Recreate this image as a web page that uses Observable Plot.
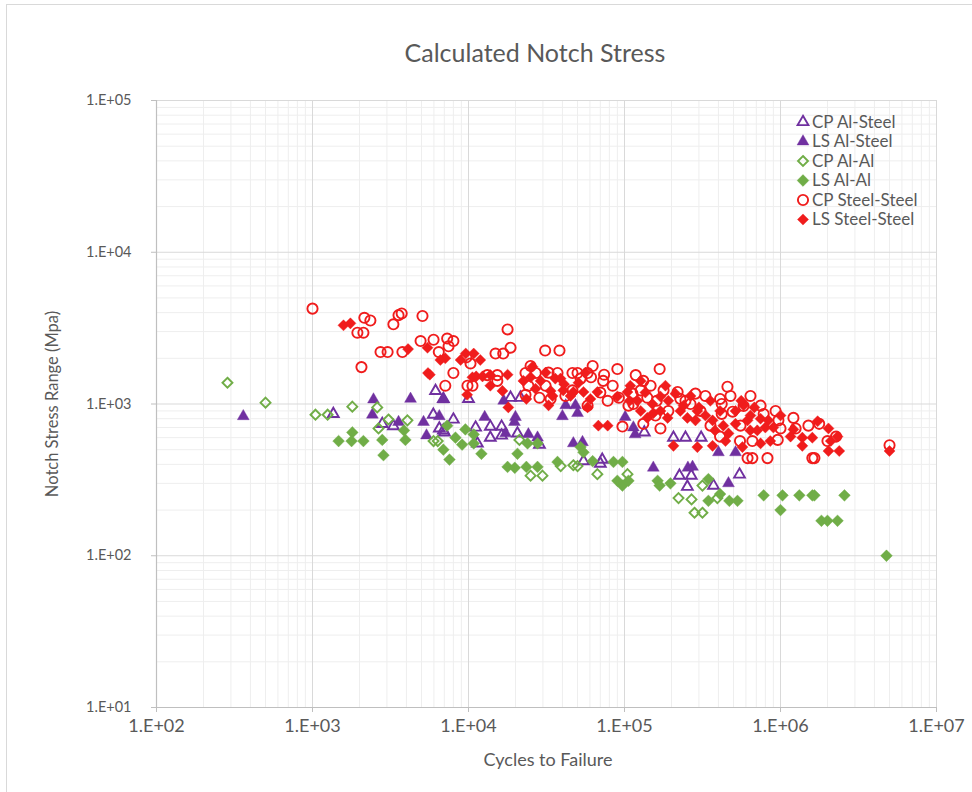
<!DOCTYPE html>
<html>
<head>
<meta charset="utf-8">
<script src="https://cdn.jsdelivr.net/npm/d3@7"></script>
<script src="https://cdn.jsdelivr.net/npm/@observablehq/plot@0.6"></script>
<style>
  body { margin: 0; background: #fff; font-family: Lato, "Open Sans", sans-serif; }
  #chart { position: relative; width: 972px; height: 792px; overflow: hidden; }
  #chart .frame { position: absolute; left: 6px; top: 4px; width: 980px; height: 800px; border: 1px solid #d9d9d9; box-sizing: border-box; }
  #chart .title { position: absolute; left: 0; width: 1070px; top: 37px; text-align: center; font-size: 25px; color: #595959; }
  #chart .xlabel { position: absolute; left: 0; width: 1096px; top: 748px; text-align: center; font-size: 18px; color: #595959; }
  #chart .ylabel { position: absolute; left: 52px; top: 404px; transform: translate(-50%, -50%) rotate(-90deg); white-space: nowrap; font-size: 16.5px; color: #595959; }
  #chart svg.plot { position: absolute; left: 0; top: 0; }
  #chart svg.legend { position: absolute; left: 0; top: 0; pointer-events: none; }
</style>
</head>
<body>
<div id="chart">
  <div class="frame"></div>
  <div class="title">Calculated Notch Stress</div>
  <div class="ylabel">Notch Stress Range (Mpa)</div>
  <div class="xlabel">Cycles to Failure</div>
</div>
<script>
// Series: [cycles to failure, notch stress range (MPa)]
const cpAlSteel = [
  [1360, 860], [2800, 740], [3300, 715], [6150, 1220], [5950, 850], [6500, 690],
  [7000, 650], [8000, 790], [6900, 1080], [10000, 1080], [18600, 1100], [21500, 1100],
  [6900, 670], [11100, 700], [13800, 710], [16300, 710], [13800, 600], [16300, 620],
  [11400, 550], [20600, 640], [28500, 540], [54600, 420], [72000, 430], [70000, 405],
  [134000, 650], [206000, 600], [246000, 600], [225000, 337], [253000, 285], [268000, 337],
  [310000, 600], [372000, 290], [546000, 343]
];
const lsAlSteel = [
  [360, 830], [2460, 1070], [2420, 850], [4250, 1080], [6900, 1070], [3560, 760],
  [5150, 760], [6500, 830], [5380, 620], [12700, 820], [16800, 1050], [20000, 820],
  [19700, 760], [17300, 640], [24200, 630], [27700, 600], [47000, 550], [53800, 560],
  [40000, 830], [50000, 870], [42000, 980], [48500, 980], [101000, 820], [114000, 700],
  [117000, 630], [153000, 380], [273000, 385], [255000, 380], [400000, 480], [515000, 480],
  [464000, 300]
];
const cpAlAl = [
  [285, 1380], [500, 1020], [1045, 850], [1250, 850], [1800, 960], [2600, 950],
  [3070, 790], [4060, 780], [2650, 690], [5970, 570], [6350, 570], [21200, 580],
  [25000, 337], [29800, 337], [39000, 390], [47000, 395], [50000, 390], [67000, 345],
  [104500, 345], [222000, 240], [269000, 235], [316000, 290], [281000, 192], [316000, 192],
  [394000, 240]
];
const lsAlAl = [
  [1470, 570], [1800, 650], [1780, 570], [2120, 570], [2800, 580], [2850, 460],
  [3940, 580], [3860, 670], [7300, 720], [8250, 600], [6900, 500], [7550, 430],
  [9550, 680], [10800, 630], [9100, 540], [10800, 550], [12100, 470], [20600, 470],
  [17800, 385], [19800, 380], [23500, 385], [27700, 385], [23900, 550], [27700, 550],
  [37200, 415], [52300, 520], [54600, 480], [62500, 420], [85000, 415], [97000, 415],
  [90000, 312], [97000, 290], [106000, 312], [163000, 312], [168000, 290], [197000, 300],
  [345000, 320], [410000, 255], [345000, 230], [470000, 230], [530000, 230], [780000, 250],
  [1030000, 250], [1000000, 200], [1320000, 250], [1600000, 250], [1650000, 250], [2570000, 250],
  [1830000, 170], [2000000, 170], [2320000, 170], [4780000, 100]
];
const cpSteel = [
  [1000, 4250], [2150, 3700], [2350, 3550], [1940, 2950], [2120, 2950], [3300, 3350],
  [3560, 3850], [3730, 3950], [5070, 3800], [2730, 2200], [3030, 2200], [3770, 2200],
  [2060, 1750], [4930, 2600], [5970, 2650], [6450, 2200], [7300, 2700], [7450, 2400],
  [8000, 2600], [8000, 1600], [7100, 1320], [17800, 3100], [18600, 2350], [14900, 2150],
  [16700, 2150], [31000, 2250], [38300, 2250], [9850, 1320], [10600, 1320], [9700, 2030],
  [10300, 1850], [23200, 1600], [25000, 1780], [27000, 1600], [37200, 1600], [46400, 1600],
  [50000, 1600], [58000, 1600], [62500, 1780], [61000, 1500], [73000, 1420], [74000, 1560],
  [90000, 1700], [118000, 1550], [132000, 1420], [127000, 1230], [168000, 1700], [178000, 1230],
  [219000, 1200], [285000, 1170], [28500, 1100], [33600, 1080], [46400, 1230], [78000, 1050],
  [92000, 1100], [97000, 710], [114000, 1000], [140000, 1100], [161000, 1050], [228000, 1080],
  [265000, 1000], [132000, 740], [170000, 690], [58000, 975], [23200, 1150], [15300, 1550],
  [15300, 1420], [13200, 1550], [330000, 1130], [410000, 1080], [420000, 1000], [457000, 1300],
  [493000, 890], [580000, 970], [420000, 860], [780000, 860], [970000, 780], [1210000, 810],
  [1000000, 690], [1510000, 720], [1770000, 740], [2000000, 570], [2270000, 610], [615000, 440],
  [660000, 440], [825000, 440], [1600000, 440], [1650000, 440], [5000000, 535], [410000, 610],
  [550000, 570], [660000, 570], [960000, 580],
  [24200, 1320], [32600, 1610], [41800, 1130], [52300, 1470], [31200, 1320], [70000, 1190],
  [84000, 1320], [112500, 1170], [147000, 1320], [191000, 900], [246000, 1050], [307000, 900],
  [158000, 840], [106000, 975], [356000, 720], [554000, 720], [745000, 975], [930000, 900],
  [1250000, 690], [478000, 1130], [642000, 1130]
];
const lsSteel = [
  [1580, 3300], [1750, 3400], [4100, 2300], [5460, 2350], [7100, 2000], [5500, 1600],
  [5650, 1560], [8900, 1950], [6600, 1950], [9600, 2150], [10800, 2150], [11900, 1950],
  [13800, 1550], [13800, 1320], [10600, 1500], [11200, 1520], [12300, 1520], [17800, 1560],
  [16500, 1220], [18000, 950], [9800, 1150], [25000, 1500], [29000, 1420], [23500, 1080],
  [32600, 980], [33600, 1220], [40500, 1230], [47000, 1200], [54600, 1200], [58000, 950],
  [67000, 1200], [68000, 720], [78000, 720], [104500, 1200], [127000, 900], [140000, 810],
  [153000, 870], [189000, 810], [206000, 530], [228000, 900], [253000, 810], [293000, 520],
  [293000, 900], [367000, 530], [570000, 520], [745000, 550], [580000, 980], [680000, 950],
  [430000, 720], [515000, 740], [615000, 780], [745000, 800], [835000, 780], [900000, 700],
  [1210000, 680], [1380000, 600], [1380000, 530], [1600000, 600], [1730000, 770], [2030000, 690],
  [2100000, 570], [2320000, 610], [2030000, 490], [2380000, 490], [5000000, 490],
  [36000, 1470], [41000, 1350], [90000, 1120], [108000, 1050], [170000, 1120], [300000, 950],
  [355000, 1050], [560000, 1050], [380000, 670], [640000, 670],
  [22500, 1420], [26900, 1260], [31200, 1610], [34600, 1130], [38900, 1470], [45100, 1130],
  [50700, 1380], [60500, 1080], [25700, 1760], [56200, 1610],
  [109000, 1320], [121000, 1050], [136000, 1190], [151000, 1000], [170000, 900], [191000, 1050],
  [212000, 1170], [239000, 975], [265000, 1130], [285000, 780], [127000, 1420], [183000, 1320],
  [330000, 840], [367000, 780], [410000, 900], [464000, 640], [515000, 900], [642000, 840],
  [710000, 670], [800000, 700], [860000, 570], [1000000, 840], [1160000, 610], [444000, 570]
];

const seriesNames = ["CP Al-Steel", "LS Al-Steel", "CP Al-Al", "LS Al-Al", "CP Steel-Steel", "LS Steel-Steel"];
const xTicks = [1e2, 1e3, 1e4, 1e5, 1e6, 1e7];
const yTicks = [1e1, 1e2, 1e3, 1e4, 1e5];

const purple = "#7030a0", green = "#70ad47", red = "#f01c1c";
const textColor = "#595959";

// Series styles, in drawing order
const styles = [
  {data: cpAlSteel, symbol: "triangle", open: true,  color: purple, r: 4.0},
  {data: lsAlSteel, symbol: "triangle", open: false, color: purple, r: 4.4},
  {data: cpAlAl,    symbol: "diamond2", open: true,  color: green,  r: 4.5},
  {data: lsAlAl,    symbol: "diamond2", open: false, color: green,  r: 5.3},
  {data: cpSteel,   symbol: "circle",   open: true,  color: red,    r: 5.1},
  {data: lsSteel,   symbol: "diamond2", open: false, color: red,    r: 5.0}
];

// Minor grid lines at 2..9 within each decade
const minor = (ticks) => ticks.slice(0, -1).flatMap(d => d3.range(2, 10).map(k => k * d));
const fmtExp = d => "1.E+" + String(Math.round(Math.log10(d))).padStart(2, "0");

const dotMark = s => Plot.dot(s.data, {
  x: d => d[0], y: d => d[1], symbol: s.symbol, r: s.r,
  fill: s.open ? "none" : s.color,
  stroke: s.color,
  strokeWidth: s.open ? 1.9 : 0.4
});

const plot = Plot.plot({
  width: 972, height: 792,
  marginLeft: 156, marginRight: 36, marginTop: 100, marginBottom: 85,
  x: {type: "log", domain: [1e2, 1e7]},
  y: {type: "log", domain: [1e1, 1e5]},
  style: {fontFamily: "Lato, 'Open Sans', sans-serif", color: textColor, background: "transparent", overflow: "visible"},
  marks: [
    Plot.ruleX(minor(xTicks), {stroke: "#eeeeee", strokeWidth: 1}),
    Plot.ruleY(minor(yTicks), {stroke: "#eeeeee", strokeWidth: 1}),
    Plot.ruleX(xTicks, {stroke: "#d9d9d9", strokeWidth: 1}),
    Plot.ruleY(yTicks, {stroke: "#d9d9d9", strokeWidth: 1}),
    Plot.ruleX([1e2], {stroke: "#bfbfbf", strokeWidth: 1.2}),
    Plot.ruleY([1e1], {stroke: "#bfbfbf", strokeWidth: 1.2}),
    Plot.axisX({ticks: xTicks, tickFormat: fmtExp, tickSize: 5, tickPadding: 7, label: null, fontSize: 18, stroke: "#bfbfbf", fill: textColor}),
    Plot.axisY({ticks: yTicks, tickFormat: fmtExp, tickSize: 5, tickPadding: 20, label: null, fontSize: 14.5, stroke: "#bfbfbf", fill: textColor}),
    ...styles.map(dotMark)
  ]
});
plot.classList.add("plot");
document.getElementById("chart").appendChild(plot);

// Legend in the upper right of the plotting area
const legend = d3.select("#chart").append("svg")
  .attr("class", "legend").attr("width", 972).attr("height", 792);
const symbolTypes = {triangle: d3.symbolTriangle, diamond2: d3.symbolDiamond2, circle: d3.symbolCircle};
styles.forEach((s, i) => {
  const g = legend.append("g").attr("transform", `translate(803, ${122 + i * 19.5})`);
  g.append("path")
    .attr("d", d3.symbol(symbolTypes[s.symbol], Math.PI * s.r * s.r)())
    .attr("fill", s.open ? "none" : s.color)
    .attr("stroke", s.color)
    .attr("stroke-width", s.open ? 1.9 : 0.4);
  g.append("text")
    .attr("x", 9).attr("y", 0).attr("dy", "0.35em")
    .attr("font-family", "Lato, 'Open Sans', sans-serif")
    .attr("font-size", 17).attr("fill", textColor)
    .text(seriesNames[i]);
});
</script>
</body>
</html>
